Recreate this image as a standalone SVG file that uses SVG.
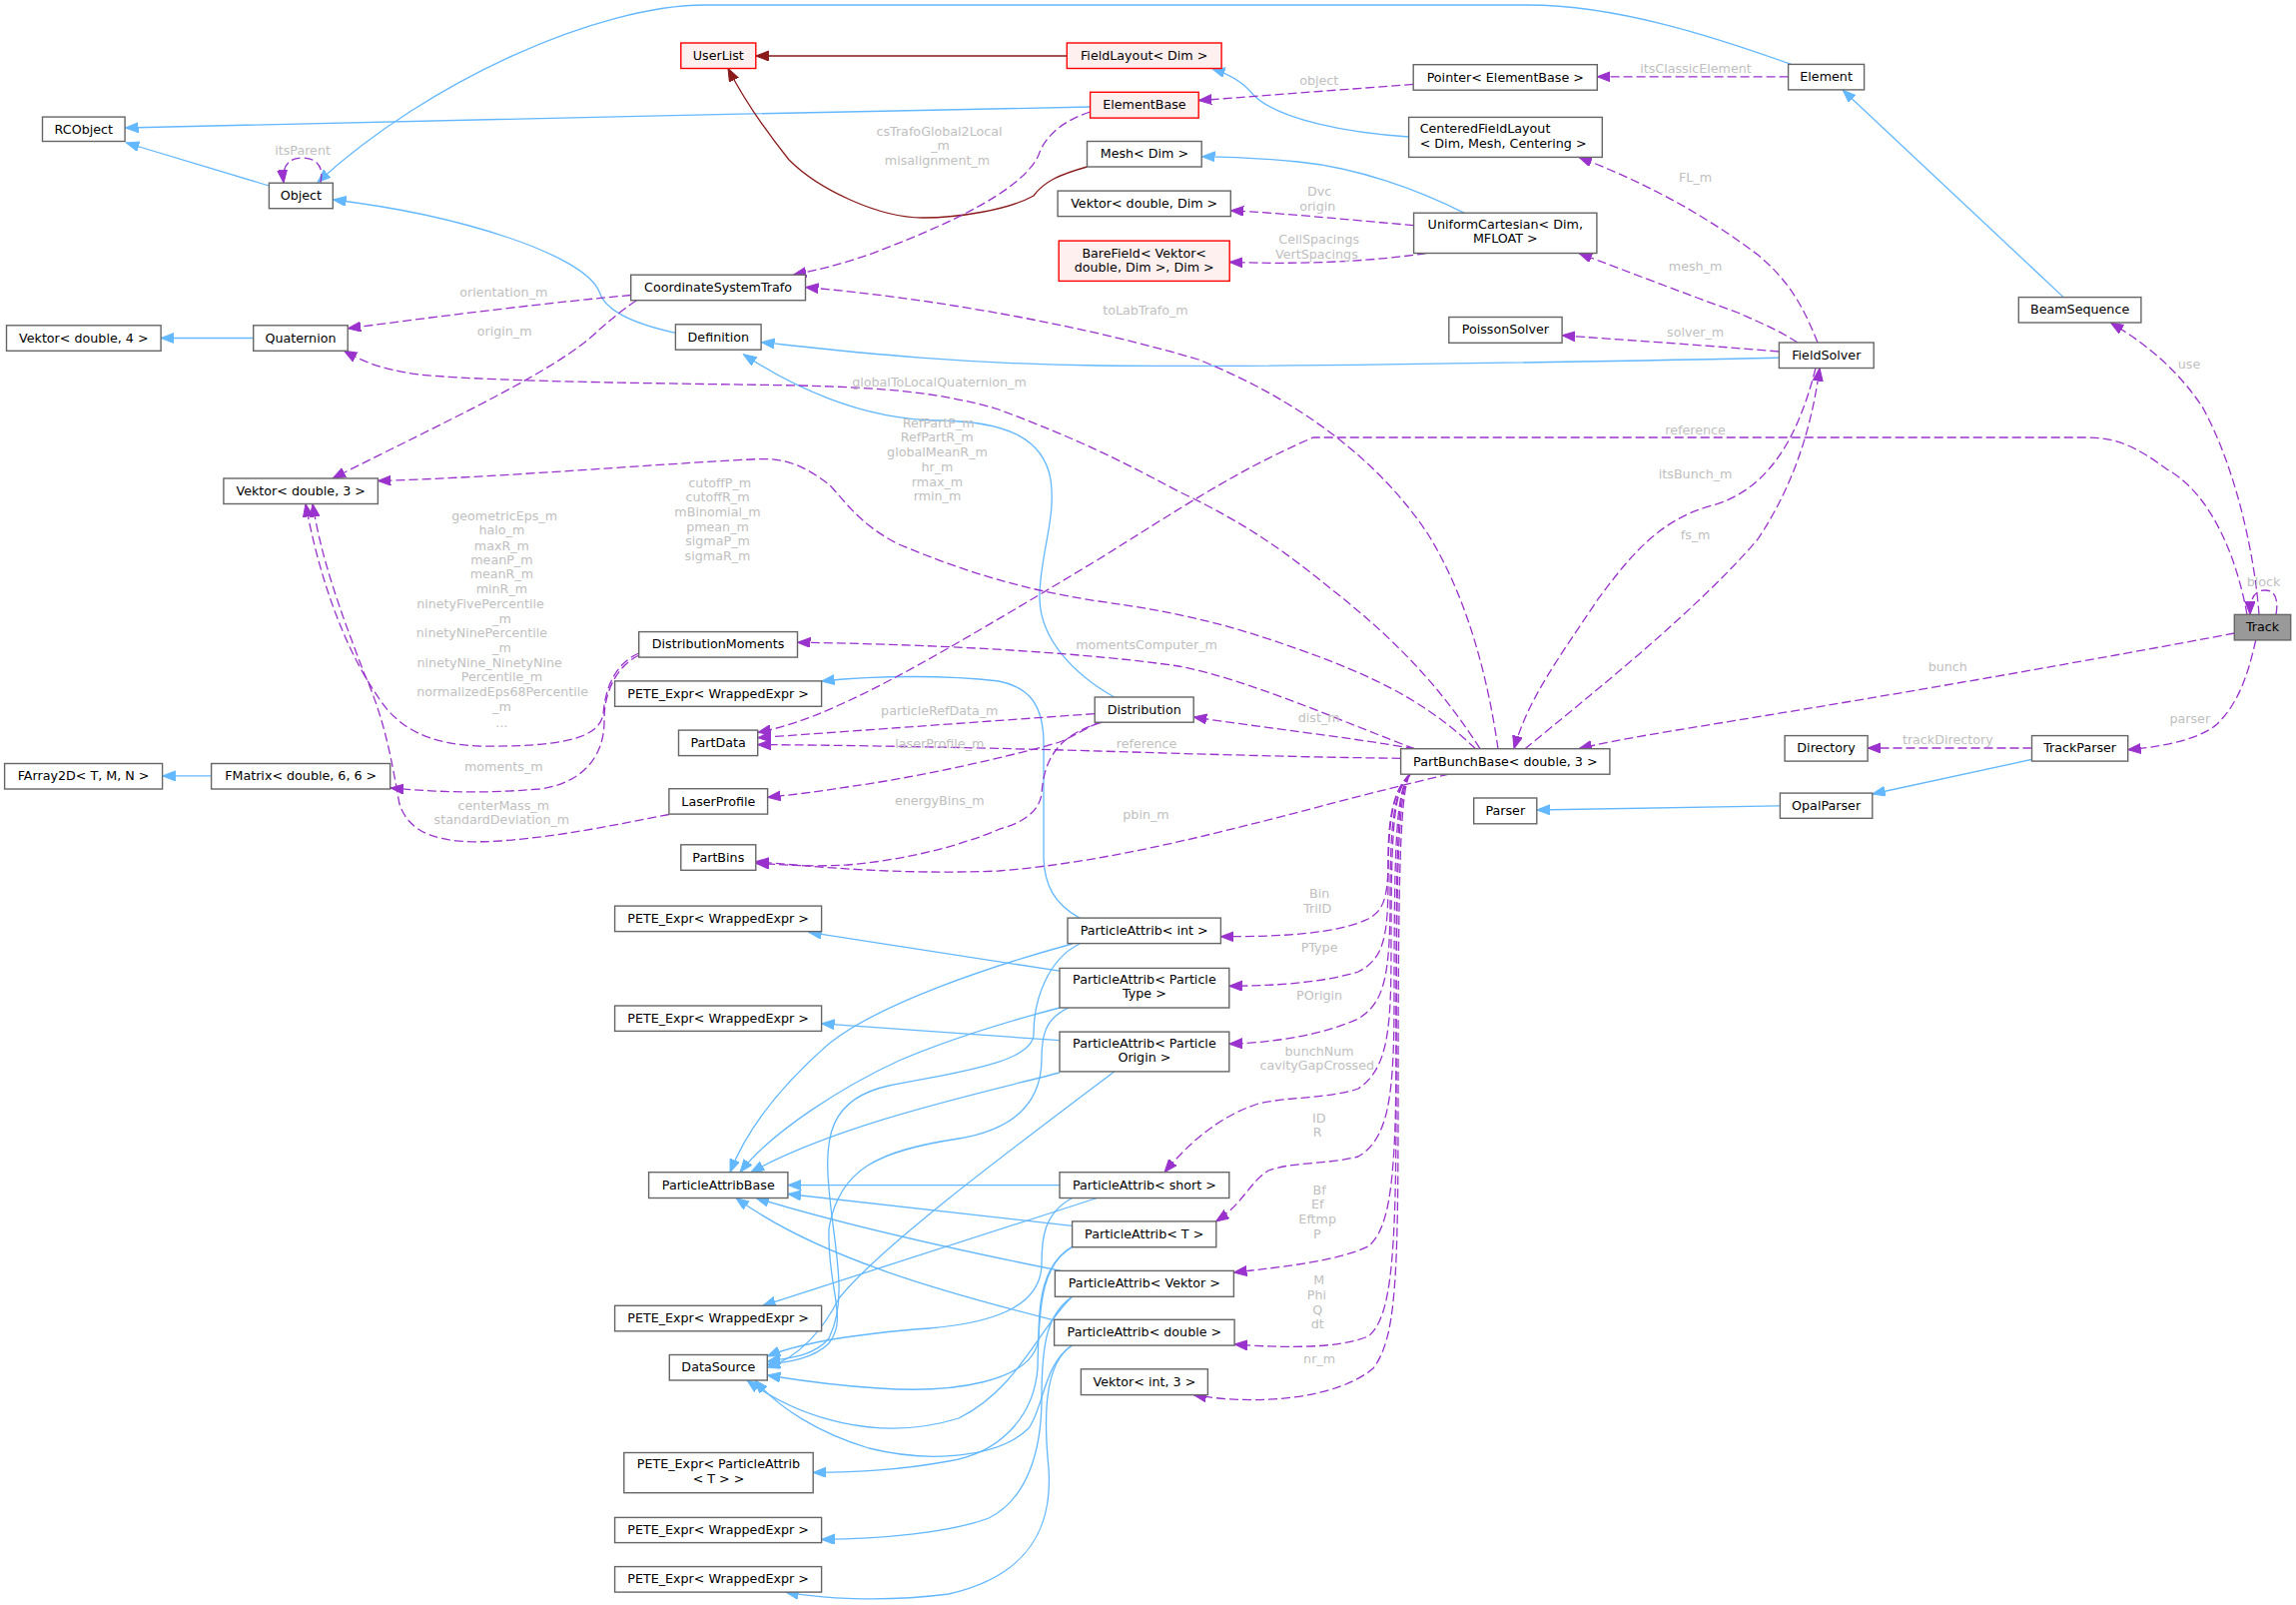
<svg xmlns="http://www.w3.org/2000/svg" width="2299" height="1607" viewBox="0 0 2299 1607">
<style>
.n rect{fill:#fff;stroke:#666;stroke-width:1.4}
.n.r rect{fill:#fff0f0;stroke:#f00}
.n.cur rect{fill:#999}
.n text{font-family:"DejaVu Sans",sans-serif;font-size:12.7px;fill:#000;text-anchor:middle}
.n text.l{text-anchor:start}
.lb{font-family:"DejaVu Sans",sans-serif;font-size:12.7px;fill:#c0c0c0;text-anchor:middle}
.e path{fill:none;stroke-width:1.3}
.e .b{stroke:#63b8ff;marker-end:url(#ab)}
.e .r{stroke:#8b1a1a;marker-end:url(#ar)}
.e .p{stroke:#9a32cd;stroke-dasharray:9,4;marker-end:url(#ap)}
</style>
<defs>
<marker id="ab" markerWidth="14" markerHeight="11" refX="13" refY="5" orient="auto" markerUnits="userSpaceOnUse"><path d="M0,0 L13,5 L0,10 z" fill="#63b8ff" stroke="#63b8ff" stroke-width="1"/></marker>
<marker id="ap" markerWidth="14" markerHeight="11" refX="13" refY="5" orient="auto" markerUnits="userSpaceOnUse"><path d="M0,0 L13,5 L0,10 z" fill="#9a32cd" stroke="#9a32cd" stroke-width="1"/></marker>
<marker id="ar" markerWidth="14" markerHeight="11" refX="13" refY="5" orient="auto" markerUnits="userSpaceOnUse"><path d="M0,0 L13,5 L0,10 z" fill="#8b1a1a" stroke="#8b1a1a" stroke-width="1"/></marker>
</defs>
<rect width="2299" height="1607" fill="#fff"/>
<g id="edges" class="e">
<path class="b" d="M1793.5,64.4 C1720,38 1620,5 1530,5 L706,5 C600,5 430,80 318,182.5"/>
<path class="b" d="M1091.6,107 C800,112 400,122 125.5,128"/>
<path class="b" d="M269.4,186 L126.3,143"/>
<path class="b" d="M253.7,338.5 L161.1,338.5"/>
<path class="b" d="M676.4,333.4 C625,322 605,308 600,292 C585,255 460,215 333.5,200"/>
<path class="b" d="M1115.7,698 C1075,675 1042,640 1041,600 C1040,560 1058,520 1052,480 C1045,440 1010,422 940,421 C860,420 790,385 744.5,354.7"/>
<path class="b" d="M1410.6,137 C1350,133 1280,120 1255,95 C1245,82 1230,74 1213.6,68.6"/>
<path class="b" d="M1466,213.2 C1420,190 1360,168 1300,162 C1260,158 1230,157 1203.5,156.7"/>
<path class="b" d="M1781.4,358.2 C1500,364 1250,368 1100,366 C950,364 850,352 762.5,342.7"/>
<path class="b" d="M2066.2,297.6 L1845.2,90.2"/>
<path class="b" d="M2034.5,760.4 L1874.8,795"/>
<path class="b" d="M1782.4,806.9 L1538.8,811"/>
<path class="b" d="M211.6,776.9 L162.6,776.9"/>
<path class="b" d="M1081,919.1 C1055,905 1046,885 1045,860 L1045,745 C1045,705 1030,688 1000,682 C950,676 880,676 822.6,682"/>
<path class="b" d="M1061,972.2 L809.6,933.3"/>
<path class="b" d="M1061,1041.7 L822.6,1024.9"/>
<path class="b" d="M1073.6,945 C990,968 880,1005 830,1045 C790,1080 750,1125 731,1173.7"/>
<path class="b" d="M1061,1009 C1000,1025 940,1045 900,1062 C850,1085 775,1130 741,1173.7"/>
<path class="b" d="M1061,1074 C980,1095 840,1125 752,1173.7"/>
<path class="b" d="M1061,1186.6 L789,1186.6"/>
<path class="b" d="M1073.6,1227.4 L789,1195.5"/>
<path class="b" d="M1064,1272.8 C950,1250 840,1225 757,1199.5"/>
<path class="b" d="M1054.5,1321.6 C950,1295 820,1260 737,1199.5"/>
<path class="b" d="M1081,945 C1050,960 1035,1000 1035,1035 C1035,1065 950,1075 890,1087 C830,1100 825,1140 830,1190 C835,1250 850,1300 830,1340 C815,1358 790,1360 768.3,1363"/>
<path class="b" d="M1070,1009 C1045,1020 1043,1040 1043,1060 C1043,1100 1020,1130 960,1140 C880,1152 840,1170 830,1230 C828,1290 850,1320 830,1345 C815,1360 790,1364 768.3,1366"/>
<path class="b" d="M1115.7,1073 C1000,1160 880,1250 840,1300 C825,1330 800,1360 768.3,1369"/>
<path class="b" d="M1073.6,1199.5 C1045,1215 1043,1240 1043,1265 C1043,1310 990,1325 930,1330 C850,1336 800,1345 768.3,1358"/>
<path class="b" d="M1073.6,1248.4 C1045,1265 1040,1300 1040,1340 C1035,1385 950,1395 880,1390 C830,1387 800,1382 768.3,1377"/>
<path class="b" d="M1073.6,1298.3 C1040,1330 1020,1390 960,1420 C880,1445 800,1420 748,1382"/>
<path class="b" d="M1073.6,1347 C1045,1365 1045,1410 1030,1430 C1000,1460 930,1465 870,1450 C820,1435 780,1410 756,1382"/>
<path class="b" d="M1098.5,1199.5 L763.7,1307.3"/>
<path class="b" d="M1073.6,1248.4 C1045,1265 1040,1300 1039,1370 C1035,1420 1000,1455 950,1463 C900,1472 860,1474 814.2,1474.4"/>
<path class="b" d="M1073.6,1298.3 C1050,1315 1043,1340 1043,1400 C1043,1450 1030,1500 990,1520 C950,1535 880,1541 822.6,1541.4"/>
<path class="b" d="M1073.6,1347 C1045,1365 1045,1420 1050,1470 C1055,1540 1020,1580 950,1596 C880,1605 820,1600 786.6,1594.1"/>
<path class="r" d="M1068.3,56 L756.8,56"/>
<path class="r" d="M1088.5,167 C1060,175 1045,182 1035,196 C1010,210 960,218 924,218 C880,218 820,190 790,160 C770,135 745,100 729,68.5"/>
<path class="p" d="M321,183 C325,165 315,158 303,158 C290,158 282,165 284,183"/>
<path class="p" d="M1415.2,84.4 L1200.2,100.6"/>
<path class="p" d="M1790.6,76.8 L1599.3,76.8"/>
<path class="p" d="M1091.6,112 C1060,122 1045,140 1040,155 C1025,190 950,225 870,255 C840,265 820,270 794.3,275.2"/>
<path class="p" d="M1415.6,225.6 C1350,220 1280,213 1232.3,210.8"/>
<path class="p" d="M1427.9,253.5 C1400,258 1330,266 1231.2,262.4"/>
<path class="p" d="M1820,343 C1805,305 1790,280 1760,255 C1700,210 1640,180 1581,157.4"/>
<path class="p" d="M1800,343 C1780,330 1760,322 1740,313 C1690,295 1630,272 1581,253.5"/>
<path class="p" d="M1781.4,352 C1700,345 1620,340 1564.1,335.8"/>
<path class="p" d="M1818,368.5 C1800,440 1770,490 1715,506 C1660,520 1630,560 1600,600 C1560,660 1530,700 1516,749.7"/>
<path class="p" d="M1527,749.7 C1600,690 1700,610 1760,540 C1800,480 1815,420 1822,368.5"/>
<path class="p" d="M1500,749.7 C1490,680 1470,600 1430,535 C1380,460 1300,400 1200,360 C1100,330 950,300 806.5,287.6"/>
<path class="p" d="M1482,749.7 C1450,700 1410,650 1332,589 C1290,555 1250,525 1180,492 C1120,460 1080,440 1000,410 C940,392 880,388 800,386 C700,384 500,383 420,375 C380,370 360,360 344.4,351.3"/>
<path class="p" d="M1477.6,749.7 C1440,715 1400,685 1300,650 C1230,625 1180,613 1100,602 C1020,590 960,570 900,545 C860,525 845,500 830,485 C800,462 780,458 752,460 C650,465 500,478 378.4,481.5"/>
<path class="p" d="M1416.4,749.7 C1350,725 1250,680 1180,667 C1100,655 950,645 798.5,643.3"/>
<path class="p" d="M1416.4,749.7 C1350,738 1260,728 1195.2,718"/>
<path class="p" d="M1402.6,759.3 C1300,758 1200,755 1100,752 C1000,749 850,746 758.7,745.6"/>
<path class="p" d="M1096.2,714.6 L758.7,738.7"/>
<path class="p" d="M1100.4,723.2 C1080,733 1070,740 1058,744 C1000,760 920,778 848,788 C810,794 790,796 768.6,798.3"/>
<path class="p" d="M1104,723.2 C1060,735 1045,760 1043,795 C1040,815 1020,825 1001,830 C960,848 900,862 848,866 C810,868 790,866 756.8,864.4"/>
<path class="p" d="M1450.8,775.2 C1300,810 1150,860 1000,872 C900,876 820,868 756.8,862.7"/>
<path class="p" d="M639.7,654 C615,665 606,690 604,715 C600,740 560,748 480,747 C430,745 400,730 380,700 C345,650 320,580 306,504.5"/>
<path class="p" d="M640,656 C620,665 605,690 605,720 C606,760 580,785 540,790 C480,795 440,793 391,789"/>
<path class="p" d="M669.9,815.5 C620,825 560,838 500,842 C440,846 410,835 400,805 C392,760 385,720 365,675 C340,610 322,560 313,504.5"/>
<path class="p" d="M631.7,295.5 C560,302 450,315 348.2,328.9"/>
<path class="p" d="M637.4,300.7 C620,312 610,322 600,330 C560,370 450,420 333,479"/>
<path class="p" d="M2237.3,634 C2100,660 1900,695 1740,721 C1680,731 1620,740 1581,749.7"/>
<path class="p" d="M2258.7,641 C2250,680 2240,705 2220,725 C2200,742 2160,748 2130.7,750.7"/>
<path class="p" d="M2034.5,749 L1870.1,749"/>
<path class="p" d="M2262,615.4 C2258,560 2240,470 2205,407 C2180,370 2150,345 2113.3,323"/>
<path class="p" d="M2250,615.4 C2240,560 2215,495 2170,470 C2140,448 2120,438 2090,438 L1315,438 C1240,470 1180,510 1100,560 C1000,620 900,680 840,706 C810,720 785,728 758.7,733.5"/>
<path class="p" d="M2279,615.4 C2282,598 2277,591 2268,591 C2258,591 2253,598 2253,615.4"/>
<path class="p" d="M1412,775.2 C1395,790 1390,820 1390,860 C1390,900 1385,912 1370,920 C1340,935 1280,938 1222.4,937.7"/>
<path class="p" d="M1412,775.2 C1395,790 1390,820 1390,880 C1390,940 1385,960 1360,973 C1320,985 1270,987 1230.8,987.3"/>
<path class="p" d="M1412,775.2 C1395,790 1392,830 1392,900 C1392,980 1385,1005 1360,1020 C1320,1038 1270,1044 1230.8,1045.2"/>
<path class="p" d="M1412,775.2 C1395,790 1393,830 1393,950 C1393,1030 1390,1070 1360,1090 C1330,1100 1290,1098 1260,1105 C1220,1118 1190,1145 1166,1173.7"/>
<path class="p" d="M1412,775.2 C1398,790 1396,840 1396,1000 C1396,1100 1390,1140 1360,1158 C1330,1166 1295,1163 1270,1172 C1250,1185 1245,1205 1217.5,1222.9"/>
<path class="p" d="M1412,775.2 C1398,790 1398,850 1398,1050 C1398,1180 1392,1230 1370,1248 C1340,1262 1290,1268 1235.4,1274"/>
<path class="p" d="M1412,775.2 C1400,790 1398,860 1398,1100 C1398,1260 1393,1320 1370,1338 C1340,1350 1290,1350 1236.1,1346"/>
<path class="p" d="M1412,775.2 C1402,790 1400,870 1400,1100 C1400,1280 1398,1340 1375,1370 C1340,1400 1260,1408 1195,1396.6"/>
</g>
<g id="labels">
<text class="lb" x="303.1" y="154.5">itsParent</text>
<text class="lb" x="504.3" y="296.7">orientation_m</text>
<text class="lb" x="505.1" y="335.6">origin_m</text>
<text class="lb" x="505.1" y="520.6">geometricEps_m</text>
<text class="lb" x="502.4" y="535.4">halo_m</text>
<text class="lb" x="502.4" y="550.5">maxR_m</text>
<text class="lb" x="502.4" y="565">meanP_m</text>
<text class="lb" x="502.4" y="579.4">meanR_m</text>
<text class="lb" x="502.4" y="594.3">minR_m</text>
<text class="lb" x="481" y="608.7">ninetyFivePercentile</text>
<text class="lb" x="502.4" y="623.9">_m</text>
<text class="lb" x="482.5" y="638.3">ninetyNinePercentile</text>
<text class="lb" x="502.4" y="653.1">_m</text>
<text class="lb" x="490.2" y="667.6">ninetyNine_NinetyNine</text>
<text class="lb" x="502.4" y="682.4">Percentile_m</text>
<text class="lb" x="503.2" y="696.9">normalizedEps68Percentile</text>
<text class="lb" x="502.4" y="712">_m</text>
<text class="lb" x="502.4" y="727.5">...</text>
<text class="lb" x="504.3" y="772">moments_m</text>
<text class="lb" x="504.3" y="810.5">centerMass_m</text>
<text class="lb" x="502.4" y="825">standardDeviation_m</text>
<text class="lb" x="940.5" y="135.6">csTrafoGlobal2Local</text>
<text class="lb" x="941.6" y="150.4">_m</text>
<text class="lb" x="938.5" y="164.8">misalignment_m</text>
<text class="lb" x="940.5" y="387.3">globalToLocalQuaternion_m</text>
<text class="lb" x="939.7" y="427.6">RefPartP_m</text>
<text class="lb" x="938.2" y="442.4">RefPartR_m</text>
<text class="lb" x="938.5" y="456.9">globalMeanR_m</text>
<text class="lb" x="938.5" y="471.7">hr_m</text>
<text class="lb" x="938.5" y="486.5">rmax_m</text>
<text class="lb" x="938.5" y="501">rmin_m</text>
<text class="lb" x="720.8" y="487.5">cutoffP_m</text>
<text class="lb" x="718.5" y="502.3">cutoffR_m</text>
<text class="lb" x="718.5" y="517.1">mBinomial_m</text>
<text class="lb" x="718.5" y="531.6">pmean_m</text>
<text class="lb" x="718.5" y="546.4">sigmaP_m</text>
<text class="lb" x="718.5" y="560.8">sigmaR_m</text>
<text class="lb" x="1147" y="314.6">toLabTrafo_m</text>
<text class="lb" x="1320.7" y="84.9">object</text>
<text class="lb" x="1698" y="72.9">itsClassicElement</text>
<text class="lb" x="1321.1" y="195.8">Dvc</text>
<text class="lb" x="1319.2" y="210.6">origin</text>
<text class="lb" x="1320.7" y="243.7">CellSpacings</text>
<text class="lb" x="1318.4" y="258.5">VertSpacings</text>
<text class="lb" x="1697.6" y="182.4">FL_m</text>
<text class="lb" x="1697.6" y="271.2">mesh_m</text>
<text class="lb" x="1697.6" y="337">solver_m</text>
<text class="lb" x="1697.6" y="434.5">reference</text>
<text class="lb" x="1697.6" y="478.6">itsBunch_m</text>
<text class="lb" x="1697.6" y="540">fs_m</text>
<text class="lb" x="2192" y="369">use</text>
<text class="lb" x="1148" y="650.4">momentsComputer_m</text>
<text class="lb" x="940.8" y="715.8">particleRefData_m</text>
<text class="lb" x="940.8" y="748.5">laserProfile_m</text>
<text class="lb" x="1148" y="748.5">reference</text>
<text class="lb" x="940.8" y="806.4">energyBins_m</text>
<text class="lb" x="1147.5" y="819.5">pbin_m</text>
<text class="lb" x="1320.7" y="723">dist_m</text>
<text class="lb" x="1321.1" y="899.4">Bin</text>
<text class="lb" x="1319.2" y="914.2">TriID</text>
<text class="lb" x="1321.1" y="952.8">PType</text>
<text class="lb" x="1321.1" y="1001">POrigin</text>
<text class="lb" x="1321.1" y="1056.8">bunchNum</text>
<text class="lb" x="1318.8" y="1071">cavityGapCrossed</text>
<text class="lb" x="1320.7" y="1123.7">ID</text>
<text class="lb" x="1319.2" y="1138.3">R</text>
<text class="lb" x="1321.1" y="1195.5">Bf</text>
<text class="lb" x="1319.2" y="1209.8">Ef</text>
<text class="lb" x="1319.2" y="1224.8">Eftmp</text>
<text class="lb" x="1318.8" y="1239.5">P</text>
<text class="lb" x="1320.7" y="1285.9">M</text>
<text class="lb" x="1318.4" y="1300.9">Phi</text>
<text class="lb" x="1319.2" y="1315.5">Q</text>
<text class="lb" x="1319.2" y="1330.2">dt</text>
<text class="lb" x="1321.1" y="1364.7">nr_m</text>
<text class="lb" x="2266.6" y="587">block</text>
<text class="lb" x="1950.3" y="672.4">bunch</text>
<text class="lb" x="2192.8" y="723.7">parser</text>
<text class="lb" x="1950.3" y="744.8">trackDirectory</text>
</g>
<g id="Track" class="n cur"><rect x="2237.3" y="615.4" width="56.4" height="25.5"/><text x="2265.5" y="632.2">Track</text></g>
<g id="RCObject" class="n"><rect x="42.5" y="117.1" width="82.6" height="24.4"/><text x="83.8" y="133.9">RCObject</text></g>
<g id="Object" class="n"><rect x="269.4" y="183.2" width="63.9" height="25.5"/><text x="301.4" y="200">Object</text></g>
<g id="Quaternion" class="n"><rect x="253.7" y="325.8" width="94.5" height="25.5"/><text x="301" y="342.6">Quaternion</text></g>
<g id="Vektor_double_4" class="n"><rect x="6.5" y="325.8" width="154.6" height="25.5"/><text x="83.8" y="342.6">Vektor&lt; double, 4 &gt;</text></g>
<g id="Vektor_double_3" class="n"><rect x="223.9" y="479" width="154.5" height="25.5"/><text x="301.2" y="495.8">Vektor&lt; double, 3 &gt;</text></g>
<g id="UserList" class="n r"><rect x="681.8" y="43" width="75" height="25.5"/><text x="719.3" y="59.8">UserList</text></g>
<g id="FieldLayout" class="n r"><rect x="1068.3" y="43" width="154.8" height="25.5"/><text x="1145.7" y="59.8">FieldLayout&lt; Dim &gt;</text></g>
<g id="ElementBase" class="n r"><rect x="1091.6" y="92.3" width="108.6" height="25.8"/><text x="1145.9" y="109.1">ElementBase</text></g>
<g id="Mesh" class="n"><rect x="1088.5" y="141.5" width="114.7" height="25.5"/><text x="1145.9" y="158.3">Mesh&lt; Dim &gt;</text></g>
<g id="Vektor_double_Dim" class="n"><rect x="1059.1" y="191.1" width="173.2" height="25.5"/><text x="1145.7" y="207.9">Vektor&lt; double, Dim &gt;</text></g>
<g id="BareField" class="n r"><rect x="1060.2" y="241.1" width="171" height="40.3"/><text x="1145.7" y="257.6">BareField&lt; Vektor&lt;</text><text x="1145.7" y="272">double, Dim &gt;, Dim &gt;</text></g>
<g id="CoordinateSystemTrafo" class="n"><rect x="631.7" y="275.2" width="174.8" height="25.5"/><text x="719.1" y="292">CoordinateSystemTrafo</text></g>
<g id="Definition" class="n"><rect x="676.4" y="324.8" width="85.7" height="25.4"/><text x="719.3" y="341.6">Definition</text></g>
<g id="Pointer_ElementBase" class="n"><rect x="1415.2" y="64.7" width="184.1" height="25.5"/><text x="1507.3" y="81.5">Pointer&lt; ElementBase &gt;</text></g>
<g id="CenteredFieldLayout" class="n"><rect x="1410.6" y="117.4" width="193.7" height="40"/><text class="l" x="1421.7" y="132.8">CenteredFieldLayout</text><text class="l" x="1421.7" y="147.5">&lt; Dim, Mesh, Centering &gt;</text></g>
<g id="UniformCartesian" class="n"><rect x="1415.6" y="213.2" width="183.3" height="40.3"/><text x="1507.3" y="228.6">UniformCartesian&lt; Dim,</text><text x="1507.3" y="243.3">MFLOAT &gt;</text></g>
<g id="PoissonSolver" class="n"><rect x="1450.8" y="317.5" width="113.3" height="25.8"/><text x="1507.4" y="334.3">PoissonSolver</text></g>
<g id="Element" class="n"><rect x="1790.6" y="64.4" width="76" height="25.5"/><text x="1828.6" y="81.2">Element</text></g>
<g id="BeamSequence" class="n"><rect x="2021.3" y="297.6" width="122.6" height="25.4"/><text x="2082.6" y="314.4">BeamSequence</text></g>
<g id="FieldSolver" class="n"><rect x="1781.4" y="343" width="94.8" height="25.5"/><text x="1828.8" y="359.8">FieldSolver</text></g>
<g id="FArray2D" class="n"><rect x="4.6" y="764.5" width="158" height="25.5"/><text x="83.6" y="781.3">FArray2D&lt; T, M, N &gt;</text></g>
<g id="FMatrix" class="n"><rect x="211.6" y="764.5" width="179.1" height="25.5"/><text x="301.2" y="781.3">FMatrix&lt; double, 6, 6 &gt;</text></g>
<g id="DistributionMoments" class="n"><rect x="639.7" y="632.6" width="158.8" height="25.5"/><text x="719.1" y="649.4">DistributionMoments</text></g>
<g id="PETE_Expr_1" class="n"><rect x="615.6" y="681.9" width="207" height="25.4"/><text x="719.1" y="698.7">PETE_Expr&lt; WrappedExpr &gt;</text></g>
<g id="PartData" class="n"><rect x="679.5" y="731.1" width="79.2" height="25.5"/><text x="719.1" y="747.9">PartData</text></g>
<g id="LaserProfile" class="n"><rect x="669.9" y="789.7" width="98.7" height="25.4"/><text x="719.3" y="806.5">LaserProfile</text></g>
<g id="PartBins" class="n"><rect x="681.8" y="845.8" width="75" height="25.5"/><text x="719.3" y="862.6">PartBins</text></g>
<g id="PETE_Expr_2" class="n"><rect x="615.6" y="907.1" width="207" height="25.5"/><text x="719.1" y="923.9">PETE_Expr&lt; WrappedExpr &gt;</text></g>
<g id="PETE_Expr_3" class="n"><rect x="615.6" y="1007" width="207" height="25.4"/><text x="719.1" y="1023.8">PETE_Expr&lt; WrappedExpr &gt;</text></g>
<g id="Distribution" class="n"><rect x="1096.2" y="698" width="99" height="25.2"/><text x="1145.7" y="714.8">Distribution</text></g>
<g id="ParticleAttrib_int" class="n"><rect x="1069" y="919.1" width="153.4" height="25.5"/><text x="1145.7" y="935.9">ParticleAttrib&lt; int &gt;</text></g>
<g id="ParticleAttrib_ParticleType" class="n"><rect x="1061" y="969.4" width="169.8" height="39.6"/><text x="1145.9" y="984.9">ParticleAttrib&lt; Particle</text><text x="1145.9" y="999.4">Type &gt;</text></g>
<g id="ParticleAttrib_ParticleOrigin" class="n"><rect x="1061" y="1033.1" width="169.8" height="39.8"/><text x="1145.9" y="1048.6">ParticleAttrib&lt; Particle</text><text x="1145.9" y="1063.4">Origin &gt;</text></g>
<g id="PartBunchBase" class="n"><rect x="1402.6" y="749.7" width="209.3" height="25.5"/><text x="1507.3" y="766.5">PartBunchBase&lt; double, 3 &gt;</text></g>
<g id="Parser" class="n"><rect x="1475.7" y="799" width="63.1" height="25.8"/><text x="1507.3" y="815.8">Parser</text></g>
<g id="Directory" class="n"><rect x="1787.1" y="736.6" width="83" height="25.5"/><text x="1828.6" y="753.4">Directory</text></g>
<g id="TrackParser" class="n"><rect x="2034.5" y="736.6" width="96.2" height="25.5"/><text x="2082.6" y="753.4">TrackParser</text></g>
<g id="OpalParser" class="n"><rect x="1782.4" y="794.1" width="92.4" height="25.2"/><text x="1828.6" y="810.9">OpalParser</text></g>
<g id="ParticleAttribBase" class="n"><rect x="649.6" y="1173.7" width="139.3" height="25.8"/><text x="719.3" y="1190.5">ParticleAttribBase</text></g>
<g id="PETE_Expr_4" class="n"><rect x="615.6" y="1307.3" width="207" height="25.5"/><text x="719.1" y="1324.1">PETE_Expr&lt; WrappedExpr &gt;</text></g>
<g id="DataSource" class="n"><rect x="670.3" y="1356.5" width="98" height="25.5"/><text x="719.3" y="1373.3">DataSource</text></g>
<g id="PETE_Expr_ParticleAttrib_T" class="n"><rect x="624.8" y="1454.5" width="189.4" height="40.2"/><text x="719.5" y="1470">PETE_Expr&lt; ParticleAttrib</text><text x="719.5" y="1484.6">&lt; T &gt; &gt;</text></g>
<g id="PETE_Expr_5" class="n"><rect x="615.6" y="1519.4" width="207" height="25.2"/><text x="719.1" y="1536">PETE_Expr&lt; WrappedExpr &gt;</text></g>
<g id="PETE_Expr_6" class="n"><rect x="615.6" y="1568.6" width="207" height="25.5"/><text x="719.1" y="1585.4">PETE_Expr&lt; WrappedExpr &gt;</text></g>
<g id="ParticleAttrib_short" class="n"><rect x="1061" y="1173.7" width="169.8" height="25.8"/><text x="1145.9" y="1190.5">ParticleAttrib&lt; short &gt;</text></g>
<g id="ParticleAttrib_T" class="n"><rect x="1073.6" y="1222.9" width="144.2" height="25.8"/><text x="1145.7" y="1239.7">ParticleAttrib&lt; T &gt;</text></g>
<g id="ParticleAttrib_Vektor" class="n"><rect x="1056.4" y="1272.4" width="179" height="25.9"/><text x="1145.9" y="1289.2">ParticleAttrib&lt; Vektor &gt;</text></g>
<g id="ParticleAttrib_double" class="n"><rect x="1055.6" y="1321.3" width="180.5" height="25.8"/><text x="1145.9" y="1338.1">ParticleAttrib&lt; double &gt;</text></g>
<g id="Vektor_int_3" class="n"><rect x="1082.4" y="1370.8" width="127" height="25.8"/><text x="1145.9" y="1387.6">Vektor&lt; int, 3 &gt;</text></g>
</svg>
